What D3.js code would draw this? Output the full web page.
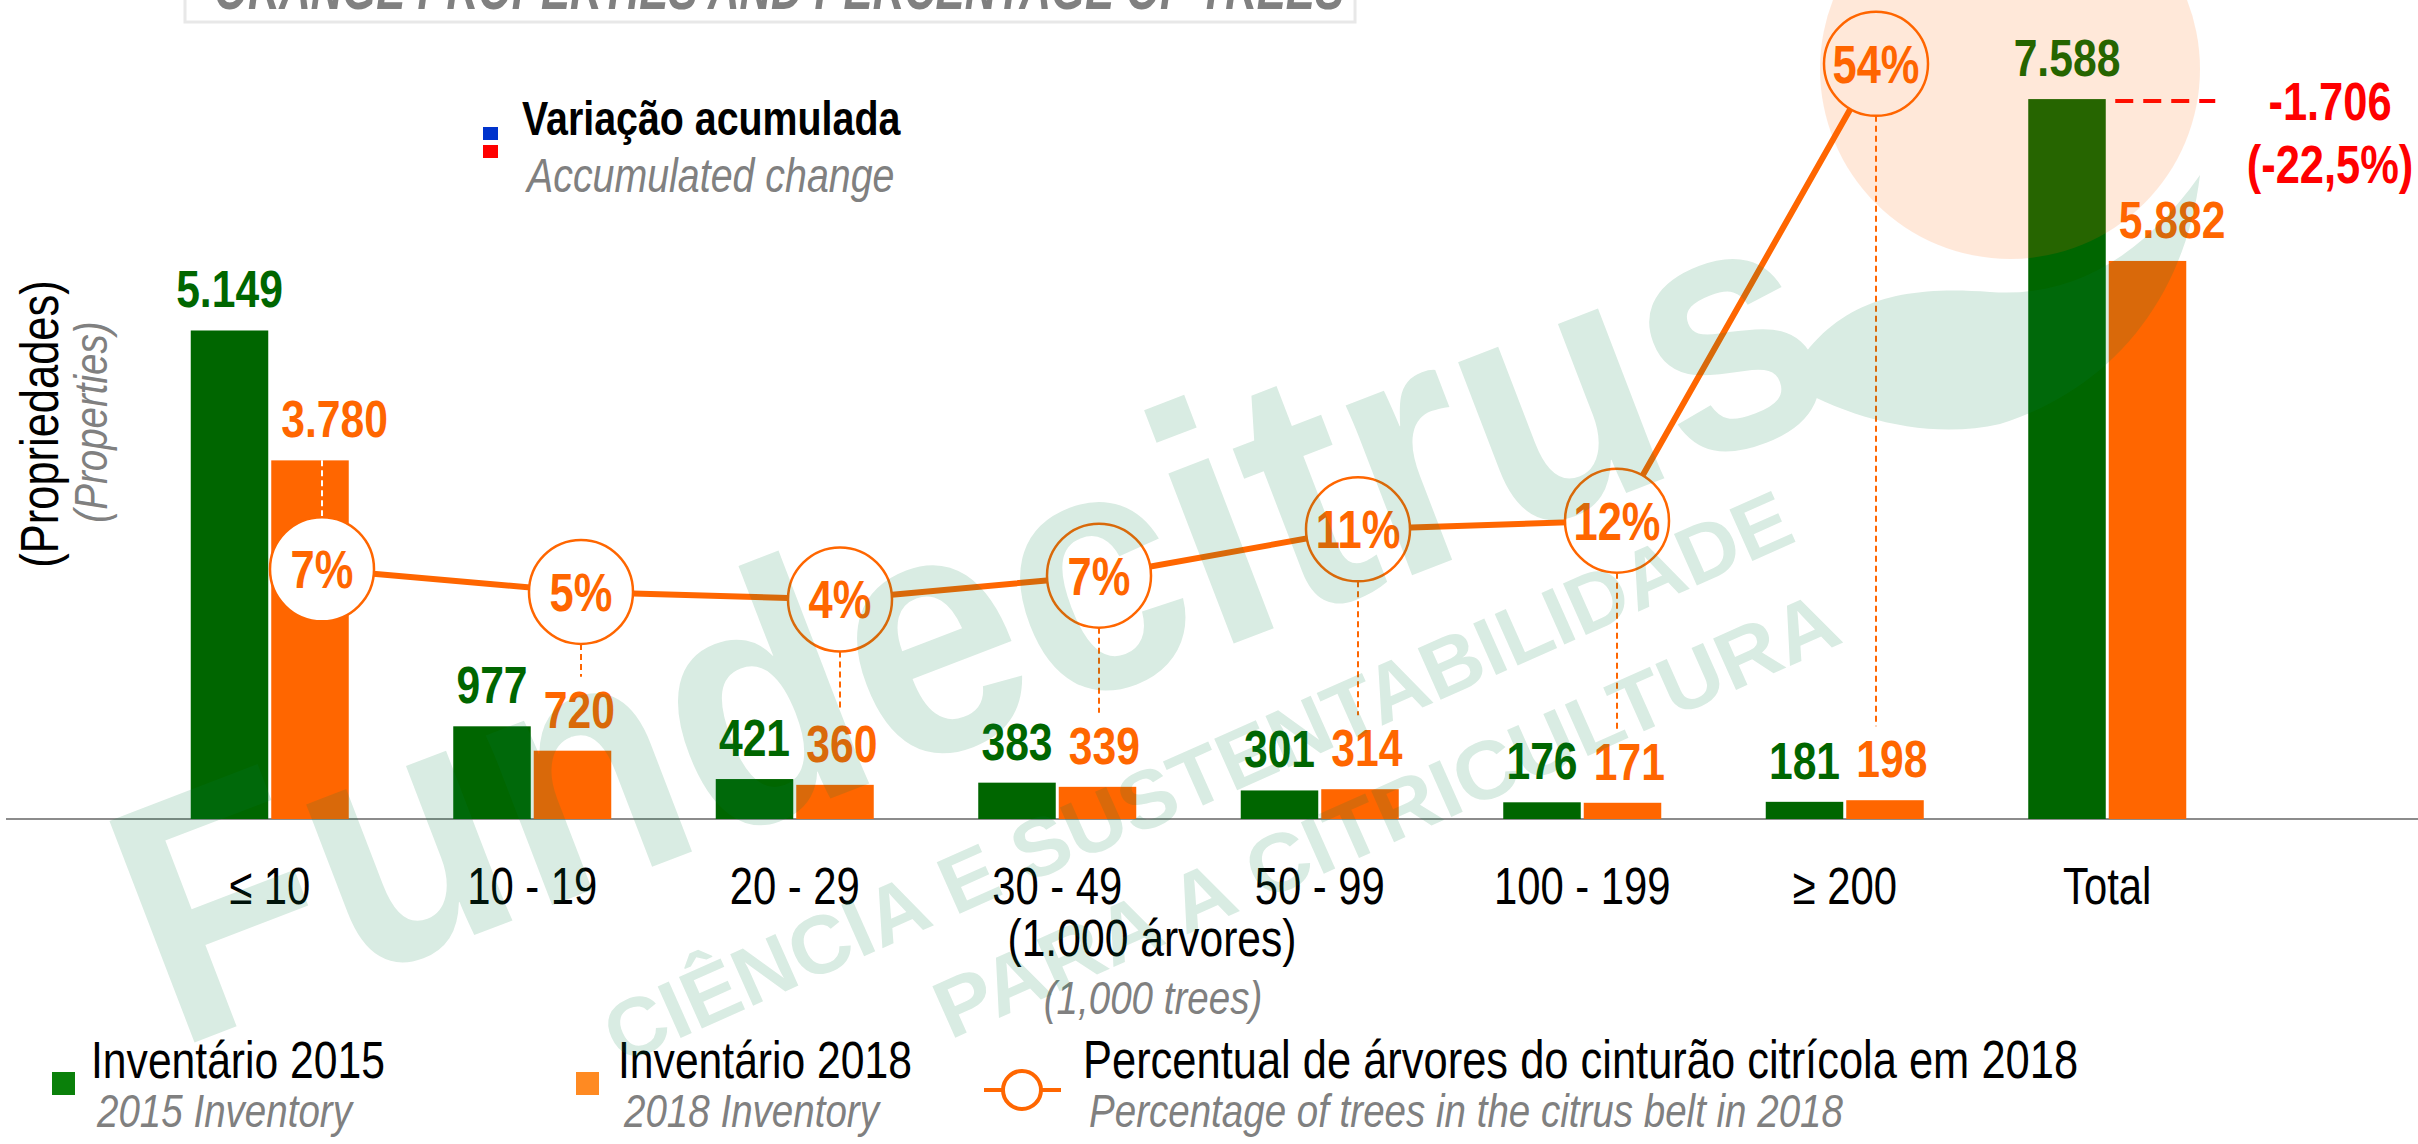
<!DOCTYPE html>
<html>
<head>
<meta charset="utf-8">
<title>Propriedades de laranja e percentual de árvores</title>
<script src="https://d3js.org/d3.v7.min.js"></script>
<style>
  body { margin: 0; background: #fff; }
  svg { display: block; }
</style>
</head>
<body>
<svg id="chart" width="2418" height="1144"></svg>
<script>
// data
var categories = ["≤ 10", "10 - 19", "20 - 29", "30 - 49", "50 - 99", "100 - 199", "≥ 200", "Total"];
var inv2015 = [5149, 977, 421, 383, 301, 176, 181, 7588];
var inv2018 = [3780, 720, 360, 339, 314, 171, 198, 5882];
// share of trees of the citrus belt, 2018 (no value for Total)
var pctTrees = [7.2, 5.1, 4.4, 6.6, 10.9, 11.7, 54.0];
var legendItems = [
  {pt: "Inventário 2015", en: "2015 Inventory"},
  {pt: "Inventário 2018", en: "2018 Inventory"},
  {pt: "Percentual de árvores do cinturão citrícola em 2018", en: "Percentage of trees in the citrus belt in 2018"}
];

var W = 2418, H = 1144;
var green = "#006600", orange = "#FF6600", grey = "#808080";
var FONT = "'Liberation Sans', Arial, sans-serif";
var SX = 0.82; // squeeze to get an Arial Narrow look

var br = d3.formatLocale({decimal: ",", thousands: ".", grouping: [3], currency: ["R$", ""], minus: "-"});
var fmtInt = br.format(",d");
var fmtPct = br.format(".1f");

var svg = d3.select("#chart");

var x = d3.scaleBand().domain(categories).range([138.5, 2238.5]).padding(0);
var y = d3.scaleLinear().domain([0, 8000]).range([819, 60]);
var xPct = d3.scalePoint().domain(categories.slice(0, 7)).range([322, 1876]);
var yPct = d3.scaleLinear().domain([0, 60]).range([647, -1]);

var barW = 77.5, gap = 3, r = 52;
function cx(d) { return x(d) + x.bandwidth() / 2; }
function tr(px, py) { return "translate(" + px + "," + py + ") scale(" + SX + ",1)"; }

// plain narrow text at one spot
function label(parent, px, py, str, font, fill, anchor) {
  return parent.append("text")
    .attr("transform", tr(px, py))
    .attr("text-anchor", anchor || "start")
    .style("font", font + " " + FONT)
    .attr("fill", fill)
    .text(str);
}

// title box (cut off at the top)
svg.append("rect")
  .attr("x", 185).attr("y", -60).attr("width", 1170).attr("height", 82)
  .attr("fill", "#fff").attr("stroke", "#e8e8e8").attr("stroke-width", 3);
svg.append("text")
  .attr("x", 214).attr("y", 9)
  .attr("textLength", 1130).attr("lengthAdjust", "spacingAndGlyphs")
  .style("font", "italic bold 62px " + FONT).attr("fill", grey)
  .text("ORANGE PROPERTIES AND PERCENTAGE OF TREES");

// baseline
svg.append("line")
  .attr("x1", 6).attr("x2", W).attr("y1", y(0)).attr("y2", y(0))
  .attr("stroke", "#8c8c8c").attr("stroke-width", 2);

// bars
var groups = svg.append("g").selectAll("g")
  .data(categories).enter().append("g");

groups.append("rect")
  .attr("x", function(d) { return cx(d) - gap / 2 - barW; })
  .attr("y", function(d, i) { return y(inv2015[i]); })
  .attr("width", barW)
  .attr("height", function(d, i) { return y(0) - y(inv2015[i]); })
  .attr("fill", green);

groups.append("rect")
  .attr("x", function(d) { return cx(d) + gap / 2; })
  .attr("y", function(d, i) { return y(inv2018[i]); })
  .attr("width", barW)
  .attr("height", function(d, i) { return y(0) - y(inv2018[i]); })
  .attr("fill", orange);

// value labels
groups.append("text")
  .attr("transform", function(d, i) { return tr(cx(d) - gap / 2 - barW / 2, y(inv2015[i]) - 23); })
  .attr("text-anchor", "middle")
  .style("font", "bold 52px " + FONT).attr("fill", green)
  .text(function(d, i) { return fmtInt(inv2015[i]); });

groups.append("text")
  .attr("transform", function(d, i) { return tr(cx(d) + gap / 2 + 10, y(inv2018[i]) - 23); })
  .style("font", "bold 52px " + FONT).attr("fill", orange)
  .text(function(d, i) { return fmtInt(inv2018[i]); });

// dashed leaders between the circles and the 2018 bars
var pcts = categories.slice(0, 7);
function below(i) { return yPct(pctTrees[i]) - r > y(inv2018[i]); }
svg.append("g").selectAll("line")
  .data(pcts).enter().append("line")
  .attr("x1", function(d) { return xPct(d); })
  .attr("x2", function(d) { return xPct(d); })
  .attr("y1", function(d, i) { return below(i) ? y(inv2018[i]) : yPct(pctTrees[i]) + r; })
  .attr("y2", function(d, i) { return below(i) ? yPct(pctTrees[i]) - r : y(inv2018[i]) - 23 - 37 - 14; })
  .attr("stroke", function(d, i) { return below(i) ? "#fff" : orange; })
  .attr("stroke-width", 2).attr("stroke-dasharray", "6,4");

// percentage line
var line = d3.line()
  .x(function(d) { return xPct(d); })
  .y(function(d, i) { return yPct(pctTrees[i]); });

svg.append("path")
  .datum(pcts)
  .attr("d", line)
  .attr("fill", "none").attr("stroke", orange).attr("stroke-width", 6);

var dots = svg.append("g").selectAll("g")
  .data(pcts).enter().append("g")
  .attr("transform", function(d, i) { return "translate(" + xPct(d) + "," + yPct(pctTrees[i]) + ")"; });

dots.append("circle")
  .attr("r", r).attr("fill", "#fff")
  .attr("stroke", orange).attr("stroke-width", 2.5);

dots.append("text")
  .attr("transform", tr(0, 19)).attr("text-anchor", "middle")
  .style("font", "bold 53px " + FONT).attr("fill", orange)
  .text(function(d, i) { return Math.round(pctTrees[i]) + "%"; });

// accumulated change on Total
var last = categories.length - 1;
var diff = inv2018[last] - inv2015[last];
svg.append("line")
  .attr("x1", cx("Total") + 8).attr("x2", cx("Total") + 108)
  .attr("y1", y(inv2015[last]) + 2).attr("y2", y(inv2015[last]) + 2)
  .attr("stroke", "#ff0000").attr("stroke-width", 4).attr("stroke-dasharray", "18,10");

label(svg, 2330, 120, fmtInt(diff), "bold 53px", "#ff0000", "middle");
label(svg, 2330, 183, "(" + fmtPct(diff / inv2015[last] * 100) + "%)", "bold 53px", "#ff0000", "middle");

// accumulated change key
svg.append("rect").attr("x", 483).attr("y", 127).attr("width", 15).attr("height", 13).attr("fill", "#0033cc");
svg.append("rect").attr("x", 483).attr("y", 145).attr("width", 15).attr("height", 13).attr("fill", "#ff0000");
label(svg, 522, 135, "Variação acumulada", "bold 48px", "#000");
label(svg, 527, 192, "Accumulated change", "italic 48px", grey);

// x axis labels
svg.append("g").selectAll("text")
  .data(categories).enter().append("text")
  .attr("transform", function(d) { return tr(cx(d), 904); })
  .attr("text-anchor", "middle")
  .style("font", "51px " + FONT).attr("fill", "#000")
  .text(function(d) { return d; });

label(svg, 1152, 956, "(1.000 árvores)", "52px", "#000", "middle");
label(svg, 1153, 1014, "(1,000 trees)", "italic 47px", grey, "middle");

// y axis title
svg.append("text").attr("transform", "translate(58,424) rotate(-90) scale(" + SX + ",1)").attr("text-anchor", "middle")
  .style("font", "53px " + FONT).attr("fill", "#000").text("(Propriedades)");
svg.append("text").attr("transform", "translate(107,422) rotate(-90) scale(" + SX + ",1)").attr("text-anchor", "middle")
  .style("font", "italic 47px " + FONT).attr("fill", grey).text("(Properties)");

// legend
var legX = [52, 576, 984];
var leg = svg.append("g").selectAll("g")
  .data(legendItems).enter().append("g");

leg.filter(function(d, i) { return i < 2; }).append("rect")
  .attr("x", function(d, i) { return legX[i]; }).attr("y", 1072)
  .attr("width", 23).attr("height", 23)
  .attr("fill", function(d, i) { return i === 0 ? "#0a800a" : "#ff8a22"; });

var mk = leg.filter(function(d, i) { return i === 2; });
mk.append("line").attr("x1", 984).attr("x2", 1061).attr("y1", 1090).attr("y2", 1090)
  .attr("stroke", orange).attr("stroke-width", 4);
mk.append("circle").attr("cx", 1022).attr("cy", 1090).attr("r", 19)
  .attr("fill", "#fff").attr("stroke", orange).attr("stroke-width", 4);

var textX = [91, 618, 1083];
leg.append("text")
  .attr("transform", function(d, i) { return tr(textX[i], 1078); })
  .style("font", function(d, i) { return (i === 2 ? "53px " : "52px ") + FONT; })
  .attr("fill", "#000")
  .text(function(d) { return d.pt; });
leg.append("text")
  .attr("transform", function(d, i) { return tr(textX[i] + 6, 1127); })
  .style("font", "italic 47px " + FONT).attr("fill", grey)
  .text(function(d) { return d.en; });

// highlight behind the 54% point
svg.append("circle").attr("cx", 2010).attr("cy", 69).attr("r", 190)
  .attr("fill", orange).attr("opacity", 0.15);

// Fundecitrus watermark
var wm = svg.append("g").attr("opacity", 0.15).attr("fill", "#008043");
wm.append("text").attr("transform", "translate(175,1050) rotate(-21)")
  .attr("textLength", 1790).attr("lengthAdjust", "spacingAndGlyphs")
  .style("font", "bold 345px " + FONT)
  .text("Fundecitrus");
wm.append("text").attr("transform", "translate(620,1065) rotate(-24)")
  .attr("textLength", 1290).attr("lengthAdjust", "spacingAndGlyphs")
  .style("font", "bold 82px " + FONT)
  .text("CIÊNCIA E SUSTENTABILIDADE");
wm.append("text").attr("transform", "translate(950,1040) rotate(-24)")
  .attr("textLength", 980).attr("lengthAdjust", "spacingAndGlyphs")
  .style("font", "bold 82px " + FONT)
  .text("PARA A CITRICULTURA");
wm.append("path")
  .attr("d", "M1787,382 C1830,300 1900,285 1990,292 C2070,298 2140,260 2200,175 C2185,300 2110,390 2000,424 C1930,440 1850,420 1787,382 Z");
</script>
</body>
</html>
